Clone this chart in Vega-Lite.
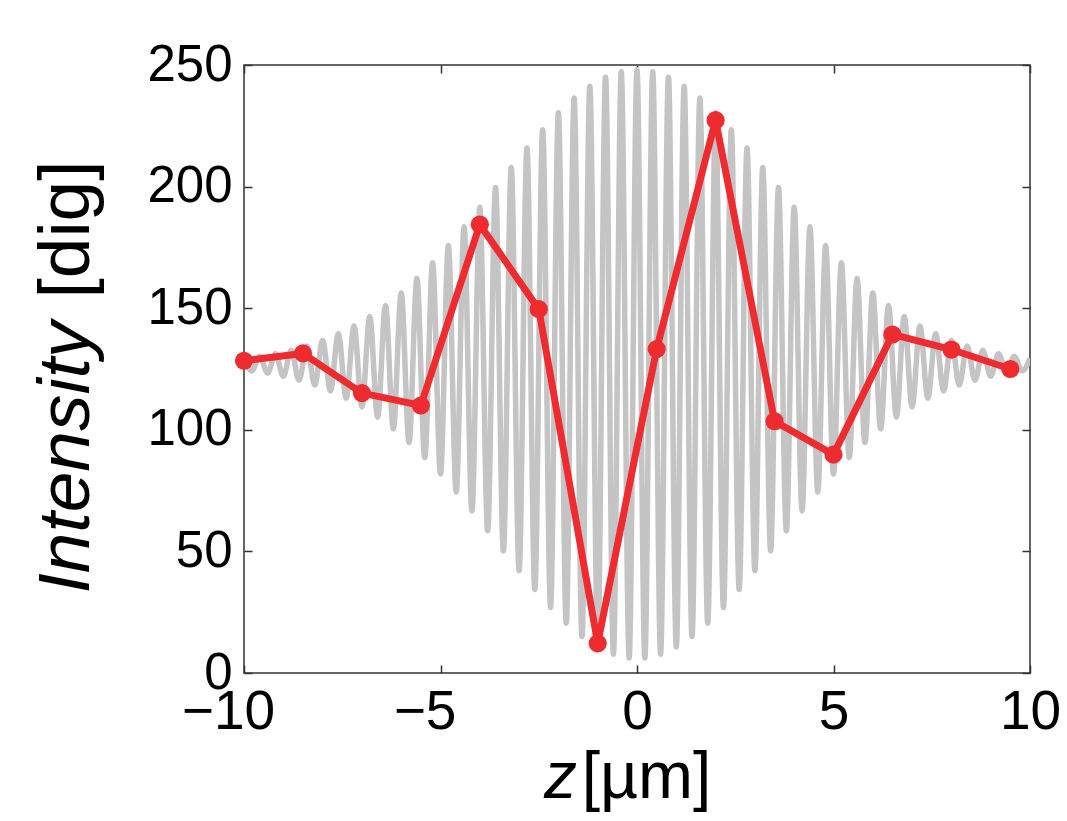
{
  "$schema": "https://vega.github.io/schema/vega-lite/v6.json",
  "width": 786,
  "height": 608,
  "autosize": {"type": "none"},
  "padding": {"left": 244, "top": 65, "right": 37, "bottom": 148},
  "background": "white",
  "config": {
    "view": {"stroke": "#333333", "strokeWidth": 1.5},
    "font": "Liberation Sans",
    "axis": {
      "grid": false,
      "domain": false,
      "labelFont": "Liberation Sans",
      "titleFont": "Liberation Sans",
      "labelColor": "black",
      "titleColor": "black",
      "titleFontWeight": "normal",
      "tickColor": "#333333",
      "tickWidth": 1.5,
      "labelFlush": false,
      "labelOverlap": false,
      "labelBound": false
    }
  },
  "datasets": {
    "fringe": [
      {"z": -10, "intensity": 129.4}, {"z": -9.8, "intensity": 124.2}, {"z": -9.6, "intensity": 130.2}, {"z": -9.4, "intensity": 123.3},
      {"z": -9.2, "intensity": 131.3}, {"z": -9.0, "intensity": 122}, {"z": -8.8, "intensity": 132.7}, {"z": -8.6, "intensity": 120.4},
      {"z": -8.4, "intensity": 134.5}, {"z": -8.2, "intensity": 118.4}, {"z": -8.0, "intensity": 136.7}, {"z": -7.8, "intensity": 116},
      {"z": -7.6, "intensity": 139.5}, {"z": -7.4, "intensity": 113}, {"z": -7.2, "intensity": 142.7}, {"z": -7.0, "intensity": 109.4},
      {"z": -6.8, "intensity": 146.6}, {"z": -6.6, "intensity": 105.2}, {"z": -6.4, "intensity": 151.1}, {"z": -6.2, "intensity": 100.4},
      {"z": -6.0, "intensity": 156.3}, {"z": -5.8, "intensity": 94.8}, {"z": -5.6, "intensity": 162.2}, {"z": -5.4, "intensity": 88.6},
      {"z": -5.2, "intensity": 168.7}, {"z": -5.0, "intensity": 81.8}, {"z": -4.8, "intensity": 175.8}, {"z": -4.6, "intensity": 74.4},
      {"z": -4.4, "intensity": 183.5}, {"z": -4.2, "intensity": 66.6}, {"z": -4.0, "intensity": 191.5}, {"z": -3.8, "intensity": 58.5},
      {"z": -3.6, "intensity": 199.6}, {"z": -3.4, "intensity": 50.2}, {"z": -3.2, "intensity": 207.9}, {"z": -3.0, "intensity": 42.1},
      {"z": -2.8, "intensity": 215.9}, {"z": -2.6, "intensity": 34.3}, {"z": -2.4, "intensity": 223.4}, {"z": -2.2, "intensity": 27},
      {"z": -2.0, "intensity": 230.4}, {"z": -1.8, "intensity": 20.5}, {"z": -1.6, "intensity": 236.4}, {"z": -1.4, "intensity": 15},
      {"z": -1.2, "intensity": 241.3}, {"z": -1.0, "intensity": 10.7}, {"z": -0.8, "intensity": 245}, {"z": -0.6, "intensity": 7.7},
      {"z": -0.4, "intensity": 247.2}, {"z": -0.2, "intensity": 6.2}, {"z": 0, "intensity": 248},
      {"z": 0.2, "intensity": 6.2}, {"z": 0.4, "intensity": 247.2}, {"z": 0.6, "intensity": 7.7}, {"z": 0.8, "intensity": 245},
      {"z": 1.0, "intensity": 10.7}, {"z": 1.2, "intensity": 241.3}, {"z": 1.4, "intensity": 15}, {"z": 1.6, "intensity": 236.4},
      {"z": 1.8, "intensity": 20.5}, {"z": 2.0, "intensity": 230.4}, {"z": 2.2, "intensity": 27}, {"z": 2.4, "intensity": 223.4},
      {"z": 2.6, "intensity": 34.3}, {"z": 2.8, "intensity": 215.9}, {"z": 3.0, "intensity": 42.1}, {"z": 3.2, "intensity": 207.9},
      {"z": 3.4, "intensity": 50.2}, {"z": 3.6, "intensity": 199.6}, {"z": 3.8, "intensity": 58.5}, {"z": 4.0, "intensity": 191.5},
      {"z": 4.2, "intensity": 66.6}, {"z": 4.4, "intensity": 183.5}, {"z": 4.6, "intensity": 74.4}, {"z": 4.8, "intensity": 175.8},
      {"z": 5.0, "intensity": 81.8}, {"z": 5.2, "intensity": 168.7}, {"z": 5.4, "intensity": 88.6}, {"z": 5.6, "intensity": 162.2},
      {"z": 5.8, "intensity": 94.8}, {"z": 6.0, "intensity": 156.3}, {"z": 6.2, "intensity": 100.4}, {"z": 6.4, "intensity": 151.1},
      {"z": 6.6, "intensity": 105.2}, {"z": 6.8, "intensity": 146.6}, {"z": 7.0, "intensity": 109.4}, {"z": 7.2, "intensity": 142.7},
      {"z": 7.4, "intensity": 113}, {"z": 7.6, "intensity": 139.5}, {"z": 7.8, "intensity": 116}, {"z": 8.0, "intensity": 136.7},
      {"z": 8.2, "intensity": 118.4}, {"z": 8.4, "intensity": 134.5}, {"z": 8.6, "intensity": 120.4}, {"z": 8.8, "intensity": 132.7},
      {"z": 9.0, "intensity": 122}, {"z": 9.2, "intensity": 131.3}, {"z": 9.4, "intensity": 123.3}, {"z": 9.6, "intensity": 130.2},
      {"z": 9.8, "intensity": 124.2}, {"z": 10, "intensity": 129.4}
    ],
    "measured": [
      {"z": -10, "intensity": 128.4}, {"z": -8.5, "intensity": 131.4}, {"z": -7, "intensity": 115.1}, {"z": -5.5, "intensity": 110},
      {"z": -4, "intensity": 184.4}, {"z": -2.5, "intensity": 149.6}, {"z": -1, "intensity": 12.2}, {"z": 0.5, "intensity": 133.2},
      {"z": 2, "intensity": 227.3}, {"z": 3.5, "intensity": 103.5}, {"z": 5, "intensity": 89.8}, {"z": 6.5, "intensity": 139.2},
      {"z": 8, "intensity": 133}, {"z": 9.5, "intensity": 125}
    ]
  },
  "layer": [
    {
      "data": {"name": "fringe"},
      "mark": {"type": "line", "color": "#c4c4c4", "strokeWidth": 5.5, "interpolate": "monotone", "clip": true},
      "encoding": {
        "x": {
          "field": "z", "type": "quantitative",
          "scale": {"domain": [-10, 10], "nice": false, "zero": false},
          "axis": {
            "orient": "bottom", "values": [-10, -5, 0, 5, 10], "ticks": false,
            "labelFontSize": 55, "labelPadding": 12,
            "labelOffset": {"condition": {"test": "datum.value < 0", "value": -16}, "value": 0},
            "title": "z", "titleFontSize": 66, "titleFontStyle": "italic",
            "titleX": 316, "titleY": 124, "titleBaseline": "alphabetic", "titleAlign": "center"
          }
        },
        "y": {
          "field": "intensity", "type": "quantitative",
          "scale": {"domain": [0, 250], "nice": false},
          "axis": {
            "orient": "left", "values": [0, 50, 100, 150, 200, 250], "ticks": false,
            "labelFontSize": 51, "labelPadding": 12,
            "title": "Intensity", "titleFontSize": 73, "titleFontStyle": "italic", "titleAngle": 270,
            "titleX": -156, "titleY": 392, "titleBaseline": "alphabetic", "titleAlign": "center"
          }
        }
      }
    },
    {
      "data": {"name": "measured"},
      "mark": {"type": "line", "color": "#ee2b2f", "strokeWidth": 7},
      "encoding": {
        "x": {
          "field": "z", "type": "quantitative",
          "scale": {"domain": [-10, 10], "nice": false, "zero": false},
          "axis": {"orient": "top", "values": [-10, -5, 0, 5, 10], "labels": false, "ticks": true, "tickSize": -8, "title": null}
        },
        "y": {
          "field": "intensity", "type": "quantitative",
          "scale": {"domain": [0, 250], "nice": false},
          "axis": {"orient": "right", "values": [0, 50, 100, 150, 200, 250], "labels": false, "ticks": true, "tickSize": -8, "title": null}
        }
      }
    },
    {
      "data": {"name": "measured"},
      "mark": {"type": "circle", "color": "#ee2b2f", "size": 330, "opacity": 1},
      "encoding": {
        "x": {
          "field": "z", "type": "quantitative",
          "scale": {"domain": [-10, 10], "nice": false, "zero": false},
          "axis": {
            "orient": "bottom", "values": [-10, -5, 0, 5, 10], "labels": false, "ticks": true, "tickSize": -8,
            "title": "[µm]", "titleFontSize": 66, "titleFontStyle": "normal",
            "titleX": 402, "titleY": 124, "titleBaseline": "alphabetic", "titleAlign": "center"
          }
        },
        "y": {
          "field": "intensity", "type": "quantitative",
          "scale": {"domain": [0, 250], "nice": false},
          "axis": {
            "orient": "left", "values": [0, 50, 100, 150, 200, 250], "labels": false, "ticks": true, "tickSize": -8,
            "title": "[dig]", "titleFontSize": 73, "titleFontStyle": "normal", "titleAngle": 270,
            "titleX": -156, "titleY": 164, "titleBaseline": "alphabetic", "titleAlign": "center"
          }
        }
      }
    }
  ],
  "resolve": {"axis": {"x": "independent", "y": "independent"}}
}
